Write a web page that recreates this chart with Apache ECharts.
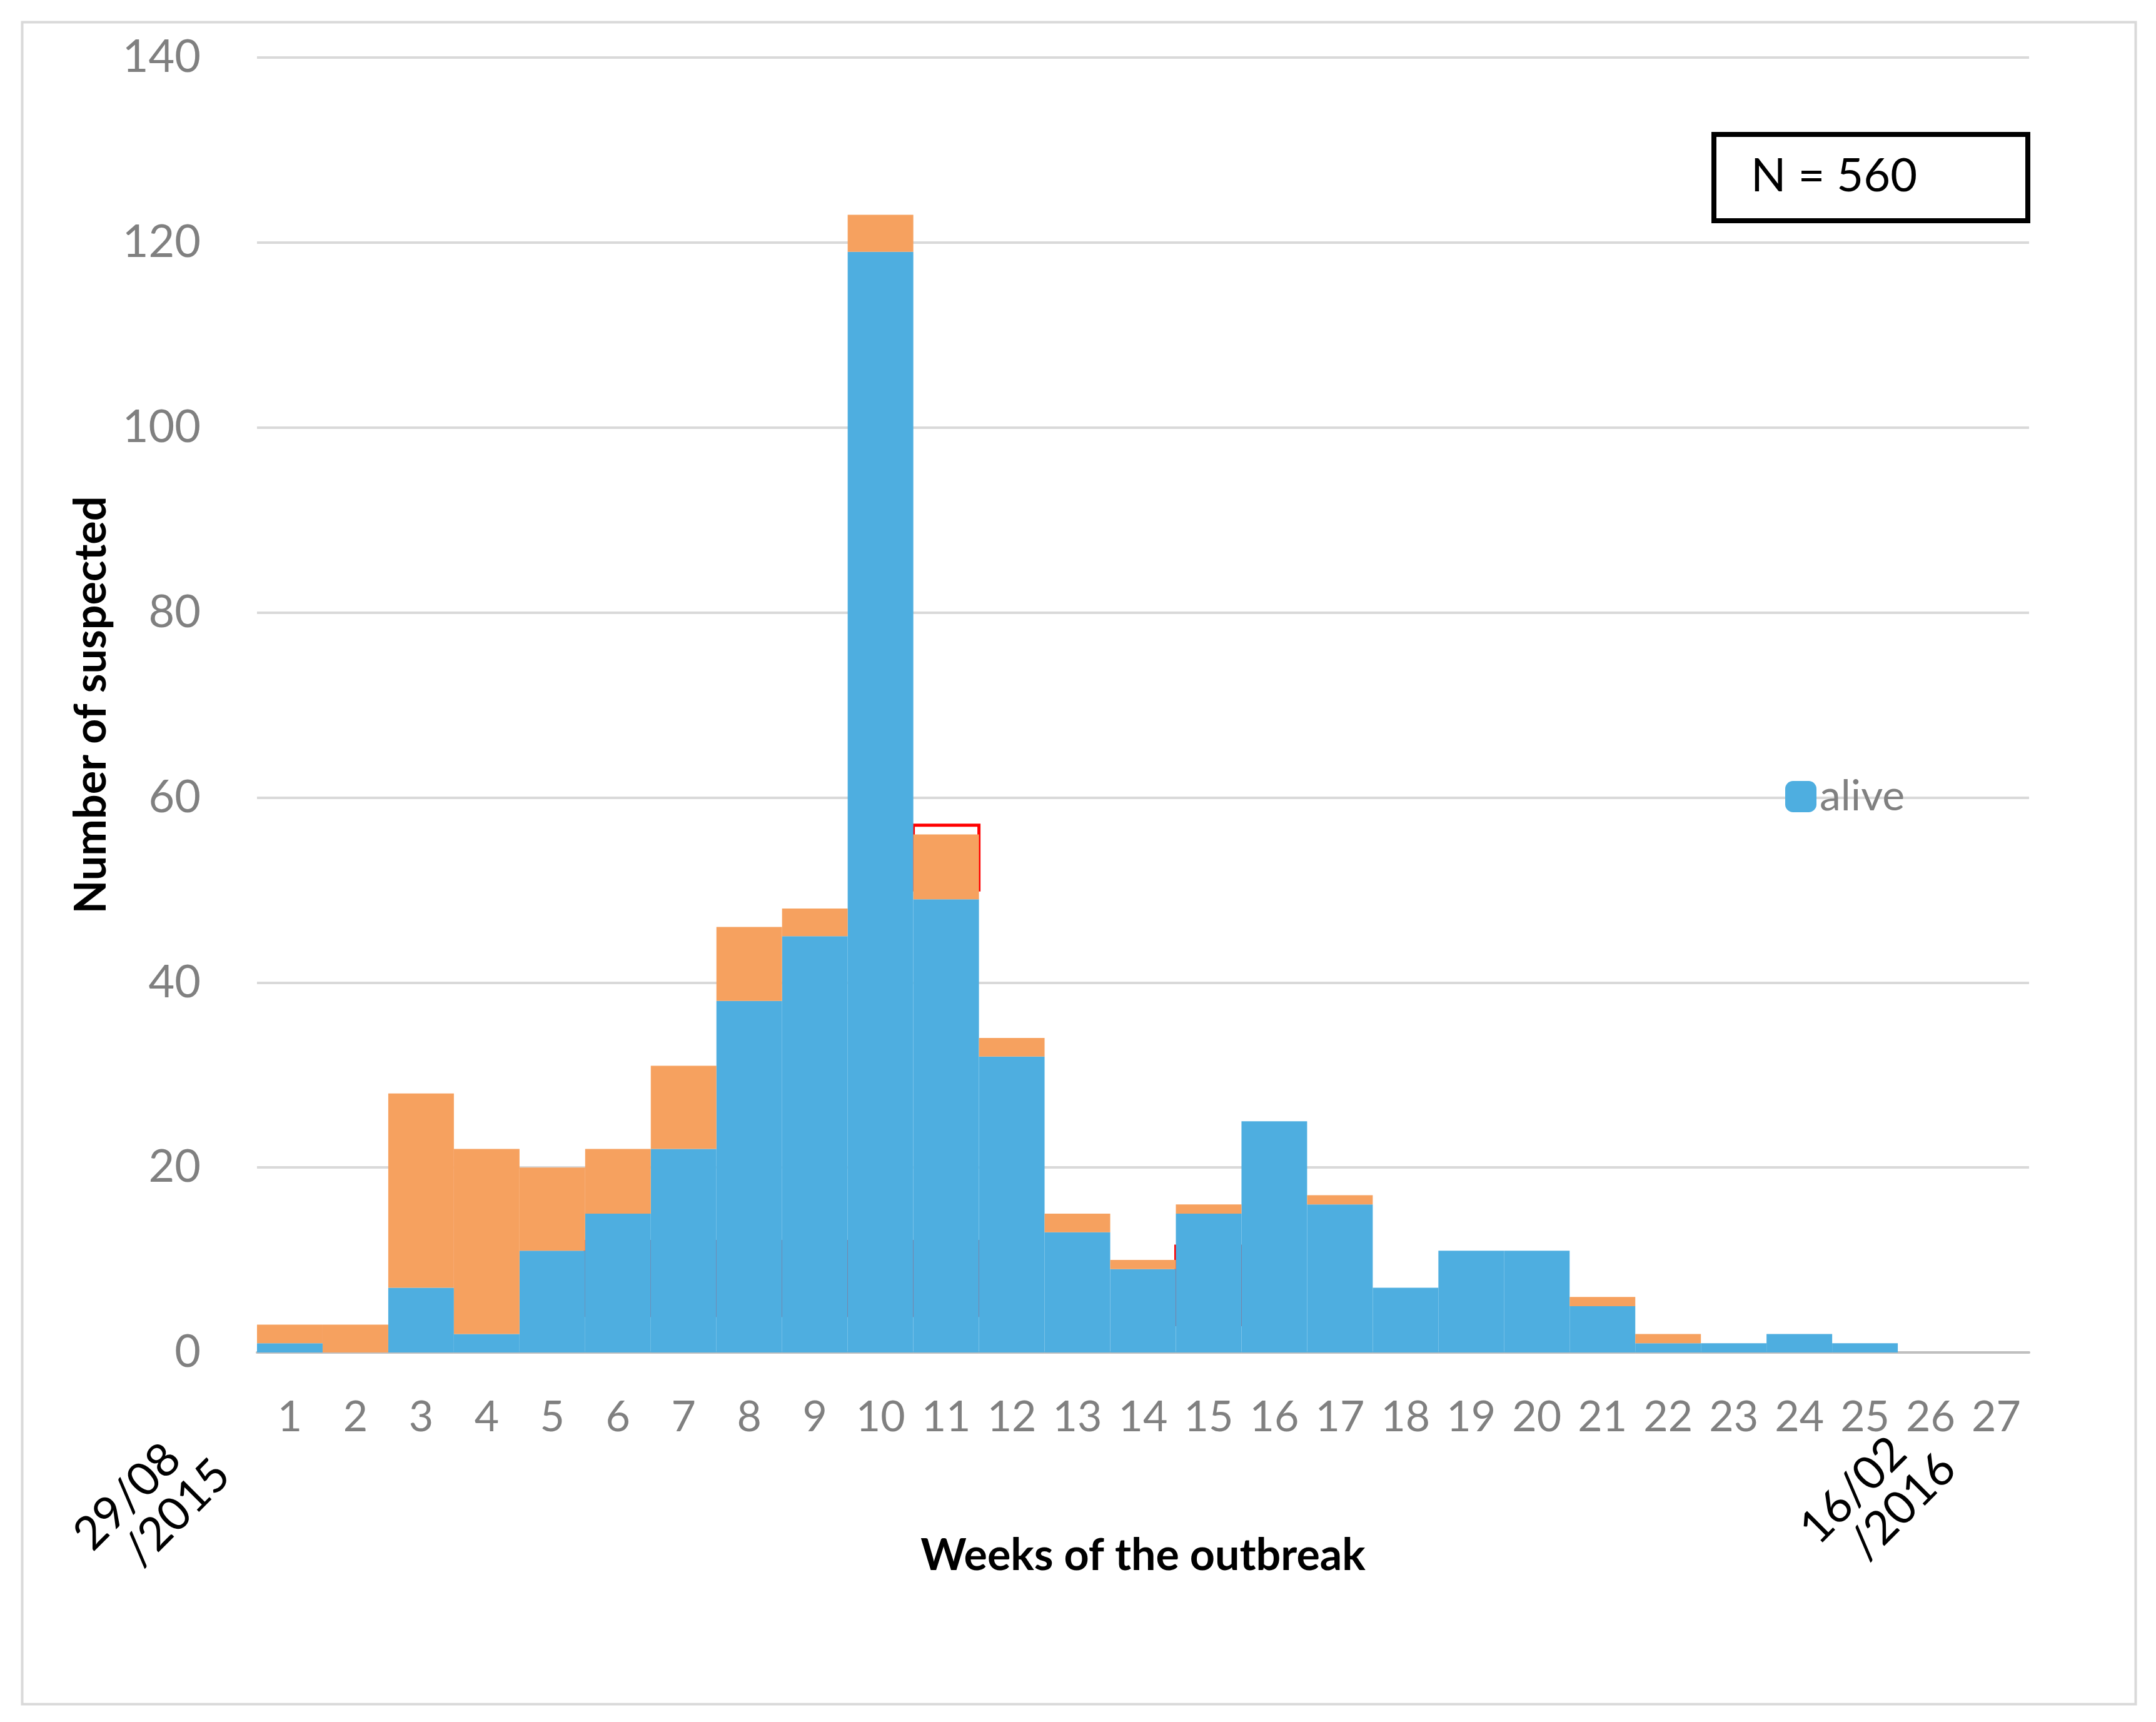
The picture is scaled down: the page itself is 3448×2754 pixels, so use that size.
<!DOCTYPE html>
<html>
<head>
<meta charset="utf-8">
<title>Weeks of the outbreak</title>
<script src="https://cdn.jsdelivr.net/npm/echarts@6/dist/echarts.min.js"></script>
<style>*{margin:0} body{background:#fff}</style>
</head>
<body>
<div id="main" style="width:3448px;height:2754px;"></div>
<script>
var weeks = ['1','2','3','4','5','6','7','8','9','10','11','12','13','14','15','16','17','18','19','20','21','22','23','24','25','26','27'];
var alive = [1,0,7,2,11,15,22,38,45,119,49,32,13,9,15,25,16,7,11,11,5,1,1,2,1,0,0];
var total = [3,3,28,22,20,22,31,46,48,123,56,34,15,10,16,25,17,7,11,11,6,2,1,2,1,0,0];
var dead = total.map(function (t, i) { return t - alive[i]; });
// red boxes: week, low, high, label
var boxWeeks = ['6','7','8','9','10','11','11','15'];
var boxLow   = [4,4,4,4,4,4,50,3];
var boxHigh  = [12,12,12,12,12,12,57,11.5];
var boxText  = ['2','3','10','5','5','5','1','1'];

var font = 'Lato, "Liberation Sans", sans-serif';
var areas = boxWeeks.map(function (w, i) {
    return [{xAxis: w, yAxis: boxLow[i], label: {formatter: boxText[i]}}, {xAxis: w, yAxis: boxHigh[i]}];
});

var myChart = echarts.init(document.getElementById('main'));
myChart.setOption({
    animation: false,
    grid: {left: 411, right: 203, top: 92, bottom: 591},
    legend: {
        data: ['alive'], left: 2850, top: 1235, itemWidth: 50, itemHeight: 50,
        textStyle: {fontSize: 68, color: '#808080', fontFamily: font}
    },
    xAxis: {
        type: 'category', data: weeks,
        name: 'Weeks of the outbreak', nameLocation: 'middle', nameGap: 290,
        nameTextStyle: {fontSize: 70, fontWeight: 'bold', color: '#000', fontFamily: font},
        axisTick: {show: false},
        axisLine: {lineStyle: {color: '#bfbfbf', width: 4}},
        axisLabel: {fontSize: 68, color: '#808080', margin: 70, fontFamily: font, interval: 0}
    },
    yAxis: {
        type: 'value', min: 0, max: 140, interval: 20,
        name: 'Number of suspected', nameLocation: 'middle', nameGap: 230, nameRotate: 90,
        nameTextStyle: {fontSize: 70, fontWeight: 'bold', color: '#000', fontFamily: font},
        axisLabel: {fontSize: 72, color: '#808080', margin: 90, fontFamily: font},
        splitLine: {lineStyle: {color: '#d9d9d9', width: 4}}
    },
    series: [{
        name: 'alive', type: 'bar', stack: 's', data: alive, barCategoryGap: 0,
        itemStyle: {color: '#4eaee0'},
        markArea: {
            silent: true,
            itemStyle: {color: 'rgba(0,0,0,0)', borderColor: '#ff0000', borderWidth: 5},
            label: {show: true, position: 'insideBottomRight', distance: [10, 18], fontSize: 66, fontWeight: 'bold', color: '#000', fontFamily: font},
            data: areas
        }
    }, {
        name: 'dead', type: 'bar', stack: 's', data: dead, barCategoryGap: 0,
        itemStyle: {color: '#f6a15f'}
    }],
    graphic: [
        {type: 'rect', left: 33, top: 33, shape: {width: 3380, height: 2690}, style: {fill: 'none', stroke: '#d9d9d9', lineWidth: 4}},
        {type: 'rect', left: 2737, top: 211, shape: {width: 502, height: 138}, style: {fill: '#fff', stroke: '#000', lineWidth: 8}},
        {type: 'text', left: 2800, top: 245, style: {text: 'N = 560', fontSize: 74, fill: '#000', fontFamily: font}},
        {type: 'text', x: 230, y: 2420, rotation: Math.PI / 4, style: {text: '29/08\n    /2015', fontSize: 74, fill: '#000', fontFamily: font, align: 'center', verticalAlign: 'middle'}},
        {type: 'text', x: 2990, y: 2410, rotation: Math.PI / 4, style: {text: '16/02\n    /2016', fontSize: 74, fill: '#000', fontFamily: font, align: 'center', verticalAlign: 'middle'}}
    ]
});
</script>
</body>
</html>
